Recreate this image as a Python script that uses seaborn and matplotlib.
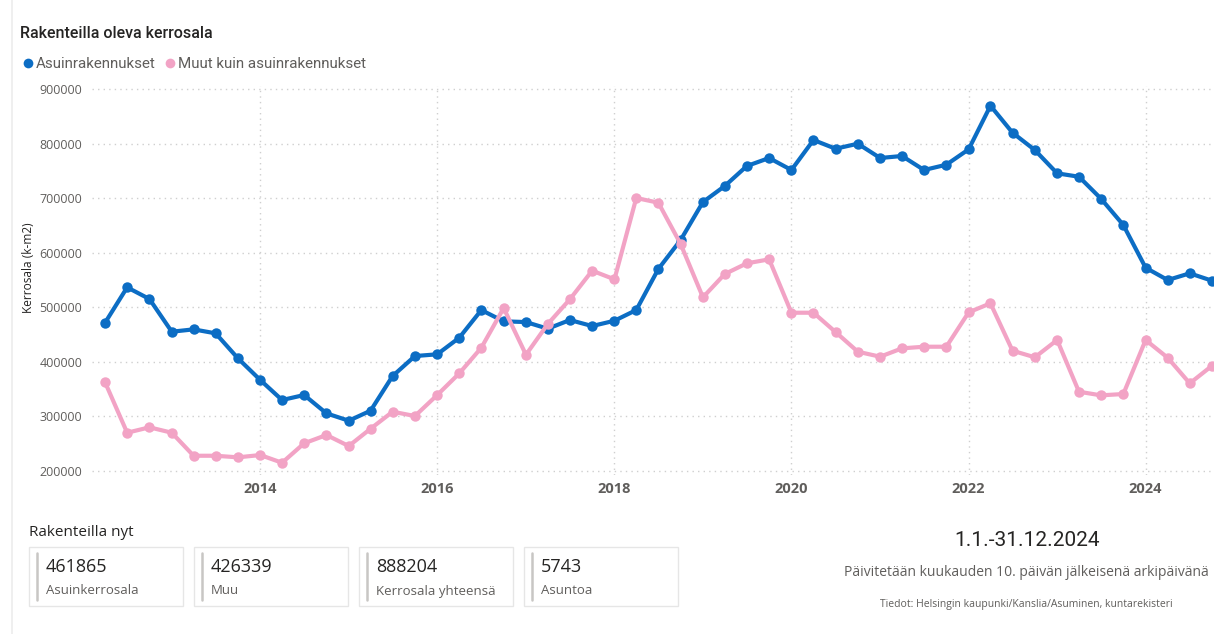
import pandas as pd
import matplotlib.pyplot as plt
import seaborn as sns
from matplotlib.lines import Line2D
from matplotlib.patches import Rectangle

# Data (quarterly, 2012Q2 .. 2024Q4)
quarters = pd.period_range("2012Q2", "2024Q4", freq="Q").to_timestamp()

asuin = [471800, 536600, 515200, 455300, 459600, 452300, 406500, 366800, 330100, 339300,
         305700, 292200, 310500, 374100, 410700, 413900, 444300, 495000, 474300, 473000,
         460800, 476700, 465700, 475400, 495000, 570200, 623300, 692900, 722300, 758900,
         773600, 751600, 806600, 790600, 799800, 773600, 777300, 751600, 761300, 789500,
         869400, 819900, 788200, 745500, 739300, 699000, 650800, 572500, 550000, 562300,
         548700]
muut = [362500, 270200, 280100, 270200, 228000, 228000, 225100, 229300, 215200, 250800,
        266000, 245800, 277500, 308700, 300800, 339300, 379000, 426000, 498700, 413100,
        469400, 514600, 567100, 551300, 700300, 691700, 616000, 518300, 561000, 580600,
        587900, 490100, 490100, 454700, 418600, 409500, 424800, 427800, 427800, 490800,
        507300, 420500, 408400, 440100, 345300, 338700, 341100, 440100, 407600, 360700,
        393000]

series_names = ["Asuinrakennukset", "Muut kuin asuinrakennukset"]
series_colors = ["#0C6DC4", "#F2A3C5"]
year_ticks = ["2014", "2016", "2018", "2020", "2022", "2024"]
y_ticks = [200000, 300000, 400000, 500000, 600000, 700000, 800000, 900000]

card_values = ["461865", "426339", "888204", "5743"]
card_labels = ["Asuinkerrosala", "Muu", "Kerrosala yhteensä", "Asuntoa"]

df = pd.DataFrame({
    "aika": list(quarters) * 2,
    "kerrosala": asuin + muut,
    "sarja": [series_names[0]] * len(asuin) + [series_names[1]] * len(muut),
})

sns.set_style("white")
plt.rcParams["font.family"] = ["Open Sans", "DejaVu Sans"]

W, H = 1214, 634
fig = plt.figure(figsize=(W / 100, H / 100), dpi=100)


def fx(px):
    return px / W


def fy(py):
    return 1 - py / H


ax = fig.add_axes([fx(92), fy(475.4), fx(1214 - 92), (475.4 - 86.3) / H])

sns.lineplot(data=df, x="aika", y="kerrosala", hue="sarja", hue_order=series_names,
             palette=series_colors, marker="o", markersize=7.5, markeredgewidth=0,
             linewidth=3, legend=False, ax=ax)

ax.set_xlim(pd.Timestamp("2012-02-07"), pd.Timestamp("2024-10-09"))
ax.set_ylim(192000, 905000)
ax.set_xticks(pd.to_datetime([f"{y}-01-01" for y in year_ticks]))
ax.set_xticklabels(year_ticks, fontsize=10.5, fontweight="bold", color="#605E5C")
ax.set_yticks(y_ticks)
ax.set_yticklabels([str(v) for v in y_ticks], fontsize=9, color="#605E5C")
ax.tick_params(axis="y", length=0, pad=7)
ax.tick_params(axis="x", length=0, pad=5)
ax.set_xlabel("")
ax.set_ylabel("")
for s in ax.spines.values():
    s.set_visible(False)
ax.grid(True, linestyle=(0, (1, 3)), color="#CFCFCF", linewidth=1)

fig.text(fx(28), fy(268), "Kerrosala (k-m2)", rotation=90, ha="center", va="center",
         fontsize=8.6, color="#252423")

# title and legend
fig.text(fx(20), fy(33), "Rakenteilla oleva kerrosala", fontsize=11.5, color="#252423",
         fontfamily="Roboto", fontweight="medium", va="center")
handles = [Line2D([], [], marker="o", linestyle="none", color=c, markersize=7,
                  markeredgewidth=0) for c in series_colors]
fig.legend(handles, series_names, loc="center left", bbox_to_anchor=(fx(14), fy(64)),
           ncol=2, frameon=False, handletextpad=0.05, columnspacing=0.45,
           handlelength=1, borderaxespad=0, prop={"size": 10.9, "family": "Roboto"},
           labelcolor="#605E5C")

# left border line
fig.add_artist(Line2D([fx(12), fx(12)], [0, 1], color="#ECECEC", linewidth=1.2))

# cards
fig.text(fx(29), fy(532), "Rakenteilla nyt", fontsize=11, color="#252423", va="center")
card_x = [29, 194, 359, 524]
for x0, val, lab in zip(card_x, card_values, card_labels):
    fig.add_artist(Rectangle((fx(x0), fy(606)), fx(154), (606 - 547) / H,
                             facecolor="white", edgecolor="#E6E6E6", linewidth=1))
    fig.add_artist(Line2D([fx(x0 + 8), fx(x0 + 8)], [fy(553), fy(600)],
                          color="#C8C6C4", linewidth=1.8))
    fig.text(fx(x0 + 17), fy(567), val, fontsize=13, color="#252423", va="center")
    fig.text(fx(x0 + 17), fy(591), lab, fontsize=9.5, color="#605E5C", va="center")

# right texts
fig.text(fx(1027), fy(541), "1.1.-31.12.2024", fontsize=15, color="#252423",
         ha="center", va="center", fontfamily="Roboto")
fig.text(fx(1026), fy(572), "Päivitetään kuukauden 10. päivän jälkeisenä arkipäivänä",
         fontsize=10, color="#605E5C", ha="center", va="center")
fig.text(fx(1026), fy(605), "Tiedot: Helsingin kaupunki/Kanslia/Asuminen, kuntarekisteri",
         fontsize=7.5, color="#605E5C", ha="center", va="center")

fig.savefig("out.png", dpi=100)
